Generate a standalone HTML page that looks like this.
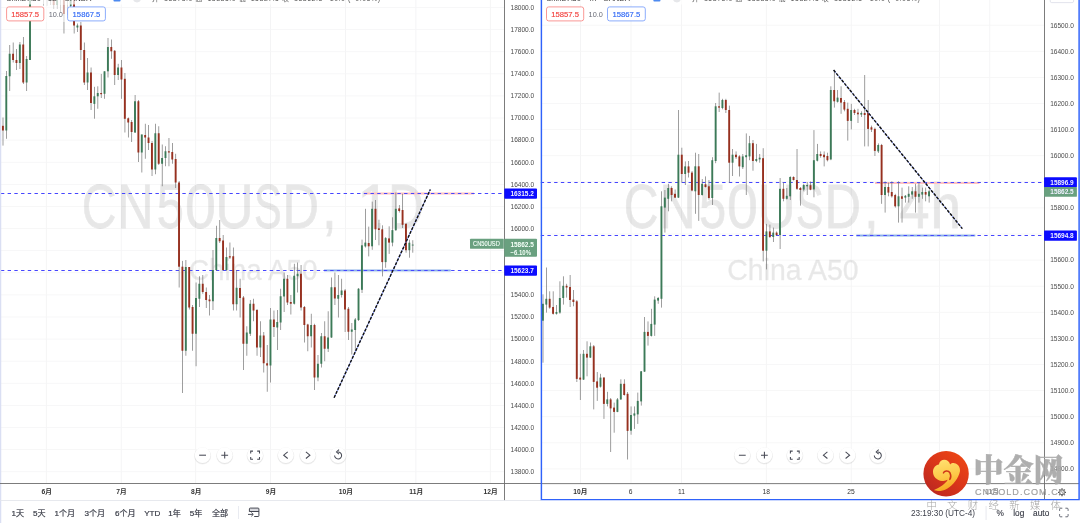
<!DOCTYPE html>
<html lang="zh-CN"><head><meta charset="utf-8"><title>CN50USD China A50 chart</title>
<style>html,body{margin:0;padding:0;background:#fff;}body{width:1080px;height:523px;overflow:hidden;}svg{display:block;will-change:transform;}text{white-space:pre;}</style>
</head><body>
<svg width="1080" height="523" viewBox="0 0 1080 523" font-family='"Liberation Sans", "Noto Sans CJK SC", sans-serif'>
<defs>
<clipPath id="cl"><rect x="0" y="0" width="504" height="483"/></clipPath>
<clipPath id="cr"><rect x="540.5" y="0" width="504" height="483"/></clipPath>
<linearGradient id="lg" x1="0.85" y1="0.1" x2="0.15" y2="0.9"><stop offset="0" stop-color="#ec4514"/><stop offset="0.5" stop-color="#d9351a"/><stop offset="1" stop-color="#bd2820"/></linearGradient>
<linearGradient id="gold" x1="0.3" y1="0" x2="0.5" y2="1"><stop offset="0" stop-color="#ffe070"/><stop offset="0.55" stop-color="#fdc848"/><stop offset="1" stop-color="#f7a51e"/></linearGradient>
</defs>
<rect width="1080" height="523" fill="#fff"/>
<g clip-path="url(#cl)">
<rect x="45.9" y="0" width="0.8" height="483" fill="#f2f2f3"/>
<rect x="120.8" y="0" width="0.8" height="483" fill="#f2f2f3"/>
<rect x="195.3" y="0" width="0.8" height="483" fill="#f2f2f3"/>
<rect x="270.1" y="0" width="0.8" height="483" fill="#f2f2f3"/>
<rect x="345.2" y="0" width="0.8" height="483" fill="#f2f2f3"/>
<rect x="415.5" y="0" width="0.8" height="483" fill="#f2f2f3"/>
<rect x="489.9" y="0" width="0.8" height="483" fill="#f2f2f3"/>
<rect x="0" y="7.10" width="504" height="0.8" fill="#f5f5f6"/>
<rect x="0" y="29.21" width="504" height="0.8" fill="#f5f5f6"/>
<rect x="0" y="51.31" width="504" height="0.8" fill="#f5f5f6"/>
<rect x="0" y="73.41" width="504" height="0.8" fill="#f5f5f6"/>
<rect x="0" y="95.52" width="504" height="0.8" fill="#f5f5f6"/>
<rect x="0" y="117.62" width="504" height="0.8" fill="#f5f5f6"/>
<rect x="0" y="139.73" width="504" height="0.8" fill="#f5f5f6"/>
<rect x="0" y="161.84" width="504" height="0.8" fill="#f5f5f6"/>
<rect x="0" y="183.94" width="504" height="0.8" fill="#f5f5f6"/>
<rect x="0" y="206.04" width="504" height="0.8" fill="#f5f5f6"/>
<rect x="0" y="228.15" width="504" height="0.8" fill="#f5f5f6"/>
<rect x="0" y="250.25" width="504" height="0.8" fill="#f5f5f6"/>
<rect x="0" y="272.36" width="504" height="0.8" fill="#f5f5f6"/>
<rect x="0" y="294.47" width="504" height="0.8" fill="#f5f5f6"/>
<rect x="0" y="316.57" width="504" height="0.8" fill="#f5f5f6"/>
<rect x="0" y="338.68" width="504" height="0.8" fill="#f5f5f6"/>
<rect x="0" y="360.78" width="504" height="0.8" fill="#f5f5f6"/>
<rect x="0" y="382.89" width="504" height="0.8" fill="#f5f5f6"/>
<rect x="0" y="404.99" width="504" height="0.8" fill="#f5f5f6"/>
<rect x="0" y="427.10" width="504" height="0.8" fill="#f5f5f6"/>
<rect x="0" y="449.20" width="504" height="0.8" fill="#f5f5f6"/>
<rect x="0" y="471.31" width="504" height="0.8" fill="#f5f5f6"/>
<g opacity="0.092"><text transform="translate(81.65,228.3) scale(0.772,1)" font-size="62.3" fill="#000" stroke="#000" stroke-width="0.8">C</text></g>
<g opacity="0.092"><text transform="translate(117.32,228.3) scale(0.808,1)" font-size="62.3" fill="#000" stroke="#000" stroke-width="0.8">N</text></g>
<g opacity="0.092"><text transform="translate(156.79,228.3) scale(0.785,1)" font-size="62.3" fill="#000" stroke="#000" stroke-width="0.8">5</text></g>
<g opacity="0.092"><text transform="translate(184.93,228.3) scale(0.890,1)" font-size="62.3" fill="#000" stroke="#000" stroke-width="0.8">0</text></g>
<g opacity="0.092"><text transform="translate(215.19,228.3) scale(0.854,1)" font-size="62.3" fill="#000" stroke="#000" stroke-width="0.8">U</text></g>
<g opacity="0.092"><text transform="translate(253.97,228.3) scale(0.667,1)" font-size="62.3" fill="#000" stroke="#000" stroke-width="0.8">S</text></g>
<g opacity="0.092"><text transform="translate(282.50,228.3) scale(0.813,1)" font-size="62.3" fill="#000" stroke="#000" stroke-width="0.8">D</text></g>
<g opacity="0.092"><text transform="translate(321.98,228.3) scale(0.851,1)" font-size="62.3" fill="#000" stroke="#000" stroke-width="0.8">,</text></g>
<clipPath id="c1_362"><path d="M359.1 168.3H380.9V231.3H371.5V222.9H359.1Z"/></clipPath>
<g clip-path="url(#c1_362)" opacity="0.092"><text transform="translate(357.01,228.3) scale(0.970,1)" font-size="62.3" fill="#000" stroke="#000" stroke-width="0.8">1</text></g>
<g opacity="0.092"><text transform="translate(387.88,228.3) scale(0.797,1)" font-size="62.3" fill="#000" stroke="#000" stroke-width="0.8">D</text></g>
<text x="189.0" y="279.6" font-size="30.4" textLength="128.5" lengthAdjust="spacingAndGlyphs" fill="#000" stroke="#000" stroke-width="0.4" opacity="0.088">China A50</text>
<rect x="364" y="192.5" width="110" height="2" fill="#ffc2c2"/>
<rect x="324" y="269.5" width="126.8" height="1.9" fill="#8ab0e8"/>
<path d="M0.9 193.5H504" stroke="#4646ff" stroke-width="1" stroke-dasharray="3.4 3.32" fill="none"/>
<path d="M0.9 270.5H504" stroke="#4646ff" stroke-width="1" stroke-dasharray="3.4 3.32" fill="none"/>
<rect x="2.66" y="117.50" width="0.68" height="28.10" fill="#707070"/>
<rect x="1.95" y="125.80" width="1.9" height="4.70" fill="#97301f"/>
<rect x="6.05" y="71.00" width="0.68" height="67.80" fill="#707070"/>
<rect x="5.34" y="76.00" width="1.9" height="54.50" fill="#3c7a58"/>
<rect x="9.43" y="45.00" width="0.68" height="46.00" fill="#707070"/>
<rect x="8.72" y="53.75" width="1.9" height="22.50" fill="#3c7a58"/>
<rect x="12.82" y="42.50" width="0.68" height="20.00" fill="#707070"/>
<rect x="12.11" y="53.75" width="1.9" height="6.25" fill="#97301f"/>
<rect x="16.21" y="49.00" width="0.68" height="21.00" fill="#707070"/>
<rect x="15.50" y="60.00" width="1.9" height="3.00" fill="#97301f"/>
<rect x="19.59" y="42.00" width="0.68" height="27.00" fill="#707070"/>
<rect x="18.88" y="44.50" width="1.9" height="18.50" fill="#3c7a58"/>
<rect x="22.98" y="37.00" width="0.68" height="47.00" fill="#707070"/>
<rect x="22.27" y="44.50" width="1.9" height="38.00" fill="#97301f"/>
<rect x="26.37" y="56.00" width="0.68" height="35.00" fill="#707070"/>
<rect x="25.66" y="59.00" width="1.9" height="23.50" fill="#3c7a58"/>
<rect x="29.76" y="-10.00" width="0.68" height="70.00" fill="#707070"/>
<rect x="29.05" y="-10.00" width="1.9" height="70.00" fill="#3c7a58"/>
<rect x="43.30" y="-10.00" width="0.68" height="15.50" fill="#707070"/>
<rect x="42.59" y="-10.00" width="1.9" height="5.00" fill="#97301f"/>
<rect x="46.69" y="-10.00" width="0.68" height="15.50" fill="#707070"/>
<rect x="45.98" y="-10.00" width="1.9" height="5.00" fill="#3c7a58"/>
<rect x="50.08" y="-10.00" width="0.68" height="15.00" fill="#707070"/>
<rect x="49.37" y="-10.00" width="1.9" height="5.00" fill="#3c7a58"/>
<rect x="53.46" y="-10.00" width="0.68" height="19.00" fill="#707070"/>
<rect x="52.75" y="-10.00" width="1.9" height="15.00" fill="#97301f"/>
<rect x="56.85" y="-10.00" width="0.68" height="19.00" fill="#707070"/>
<rect x="56.14" y="-10.00" width="1.9" height="15.00" fill="#3c7a58"/>
<rect x="60.24" y="-10.00" width="0.68" height="23.00" fill="#707070"/>
<rect x="59.53" y="-10.00" width="1.9" height="5.00" fill="#97301f"/>
<rect x="63.63" y="-10.00" width="0.68" height="43.50" fill="#707070"/>
<rect x="62.92" y="-10.00" width="1.9" height="24.00" fill="#97301f"/>
<rect x="67.01" y="-10.00" width="0.68" height="25.00" fill="#707070"/>
<rect x="66.30" y="-10.00" width="1.9" height="5.00" fill="#3c7a58"/>
<rect x="70.40" y="-10.00" width="0.68" height="18.00" fill="#707070"/>
<rect x="69.69" y="-10.00" width="1.9" height="16.00" fill="#3c7a58"/>
<rect x="73.79" y="-10.00" width="0.68" height="43.50" fill="#707070"/>
<rect x="73.08" y="-10.00" width="1.9" height="35.50" fill="#97301f"/>
<rect x="77.17" y="23.50" width="0.68" height="8.50" fill="#707070"/>
<rect x="76.46" y="25.50" width="1.9" height="2.00" fill="#3c7a58"/>
<rect x="80.56" y="22.00" width="0.68" height="38.00" fill="#707070"/>
<rect x="79.85" y="25.50" width="1.9" height="24.50" fill="#97301f"/>
<rect x="83.95" y="42.50" width="0.68" height="42.50" fill="#707070"/>
<rect x="83.24" y="50.00" width="1.9" height="32.50" fill="#97301f"/>
<rect x="87.33" y="58.00" width="0.68" height="32.00" fill="#707070"/>
<rect x="86.62" y="72.50" width="1.9" height="10.00" fill="#3c7a58"/>
<rect x="90.72" y="67.50" width="0.68" height="42.50" fill="#707070"/>
<rect x="90.01" y="72.50" width="1.9" height="30.50" fill="#97301f"/>
<rect x="94.11" y="86.80" width="0.68" height="31.90" fill="#707070"/>
<rect x="93.40" y="96.30" width="1.9" height="7.60" fill="#3c7a58"/>
<rect x="97.50" y="86.30" width="0.68" height="22.45" fill="#707070"/>
<rect x="96.79" y="93.00" width="1.9" height="3.30" fill="#3c7a58"/>
<rect x="100.88" y="73.90" width="0.68" height="24.10" fill="#707070"/>
<rect x="100.17" y="93.00" width="1.9" height="1.20" fill="#97301f"/>
<rect x="104.27" y="71.30" width="0.68" height="27.50" fill="#707070"/>
<rect x="103.56" y="71.30" width="1.9" height="22.50" fill="#3c7a58"/>
<rect x="107.66" y="38.00" width="0.68" height="39.50" fill="#707070"/>
<rect x="106.95" y="47.00" width="1.9" height="24.30" fill="#3c7a58"/>
<rect x="111.04" y="39.50" width="0.68" height="19.30" fill="#707070"/>
<rect x="110.33" y="47.00" width="1.9" height="4.30" fill="#97301f"/>
<rect x="114.43" y="50.00" width="0.68" height="35.00" fill="#707070"/>
<rect x="113.72" y="50.80" width="1.9" height="24.20" fill="#97301f"/>
<rect x="117.82" y="63.80" width="0.68" height="16.20" fill="#707070"/>
<rect x="117.11" y="67.50" width="1.9" height="7.50" fill="#3c7a58"/>
<rect x="121.20" y="60.00" width="0.68" height="38.80" fill="#707070"/>
<rect x="120.50" y="67.50" width="1.9" height="12.00" fill="#97301f"/>
<rect x="124.59" y="73.00" width="0.68" height="59.50" fill="#707070"/>
<rect x="123.88" y="78.80" width="1.9" height="40.00" fill="#97301f"/>
<rect x="127.98" y="117.50" width="0.68" height="20.00" fill="#707070"/>
<rect x="127.27" y="118.30" width="1.9" height="4.20" fill="#97301f"/>
<rect x="131.37" y="120.00" width="0.68" height="22.00" fill="#707070"/>
<rect x="130.66" y="122.00" width="1.9" height="10.00" fill="#97301f"/>
<rect x="134.75" y="95.00" width="0.68" height="38.00" fill="#707070"/>
<rect x="134.04" y="101.25" width="1.9" height="31.25" fill="#3c7a58"/>
<rect x="138.14" y="100.00" width="0.68" height="62.00" fill="#707070"/>
<rect x="137.43" y="101.25" width="1.9" height="51.25" fill="#97301f"/>
<rect x="141.53" y="134.50" width="0.68" height="38.00" fill="#707070"/>
<rect x="140.82" y="134.50" width="1.9" height="18.00" fill="#3c7a58"/>
<rect x="144.91" y="123.75" width="0.68" height="35.00" fill="#707070"/>
<rect x="144.20" y="135.00" width="1.9" height="2.50" fill="#97301f"/>
<rect x="148.30" y="125.00" width="0.68" height="25.00" fill="#707070"/>
<rect x="147.59" y="137.50" width="1.9" height="5.50" fill="#97301f"/>
<rect x="151.69" y="141.00" width="0.68" height="35.00" fill="#707070"/>
<rect x="150.98" y="143.00" width="1.9" height="26.50" fill="#97301f"/>
<rect x="155.07" y="123.75" width="0.68" height="50.50" fill="#707070"/>
<rect x="154.37" y="133.25" width="1.9" height="36.25" fill="#3c7a58"/>
<rect x="158.46" y="126.25" width="0.68" height="38.75" fill="#707070"/>
<rect x="157.75" y="133.25" width="1.9" height="30.50" fill="#97301f"/>
<rect x="161.85" y="144.50" width="0.68" height="41.75" fill="#707070"/>
<rect x="161.14" y="158.00" width="1.9" height="5.75" fill="#3c7a58"/>
<rect x="165.24" y="146.25" width="0.68" height="20.00" fill="#707070"/>
<rect x="164.53" y="151.25" width="1.9" height="6.75" fill="#3c7a58"/>
<rect x="168.62" y="138.00" width="0.68" height="28.25" fill="#707070"/>
<rect x="167.91" y="151.25" width="1.9" height="1.25" fill="#97301f"/>
<rect x="172.01" y="143.00" width="0.68" height="20.75" fill="#707070"/>
<rect x="171.30" y="152.00" width="1.9" height="7.50" fill="#97301f"/>
<rect x="175.40" y="153.75" width="0.68" height="34.25" fill="#707070"/>
<rect x="174.69" y="159.00" width="1.9" height="23.50" fill="#97301f"/>
<rect x="178.78" y="181.00" width="0.68" height="106.50" fill="#707070"/>
<rect x="178.07" y="182.50" width="1.9" height="84.20" fill="#97301f"/>
<rect x="182.17" y="260.90" width="0.68" height="132.10" fill="#707070"/>
<rect x="181.46" y="266.70" width="1.9" height="84.05" fill="#97301f"/>
<rect x="185.56" y="260.00" width="0.68" height="95.75" fill="#707070"/>
<rect x="184.85" y="267.00" width="1.9" height="83.75" fill="#3c7a58"/>
<rect x="188.94" y="267.00" width="0.68" height="42.50" fill="#707070"/>
<rect x="188.24" y="267.00" width="1.9" height="40.50" fill="#97301f"/>
<rect x="192.33" y="305.00" width="0.68" height="45.75" fill="#707070"/>
<rect x="191.62" y="307.00" width="1.9" height="26.75" fill="#97301f"/>
<rect x="195.72" y="282.50" width="0.68" height="83.75" fill="#707070"/>
<rect x="195.01" y="298.00" width="1.9" height="35.75" fill="#3c7a58"/>
<rect x="199.11" y="276.25" width="0.68" height="30.75" fill="#707070"/>
<rect x="198.40" y="283.75" width="1.9" height="15.00" fill="#3c7a58"/>
<rect x="202.49" y="275.00" width="0.68" height="18.75" fill="#707070"/>
<rect x="201.78" y="283.75" width="1.9" height="8.25" fill="#97301f"/>
<rect x="205.88" y="287.50" width="0.68" height="20.50" fill="#707070"/>
<rect x="205.17" y="292.00" width="1.9" height="8.00" fill="#97301f"/>
<rect x="209.27" y="295.00" width="0.68" height="20.50" fill="#707070"/>
<rect x="208.56" y="299.50" width="1.9" height="1.75" fill="#97301f"/>
<rect x="212.65" y="250.00" width="0.68" height="60.00" fill="#707070"/>
<rect x="211.94" y="270.00" width="1.9" height="31.25" fill="#3c7a58"/>
<rect x="216.04" y="225.75" width="0.68" height="45.25" fill="#707070"/>
<rect x="215.33" y="238.00" width="1.9" height="32.00" fill="#3c7a58"/>
<rect x="219.43" y="220.00" width="0.68" height="23.00" fill="#707070"/>
<rect x="218.72" y="238.00" width="1.9" height="3.25" fill="#97301f"/>
<rect x="222.81" y="235.00" width="0.68" height="36.00" fill="#707070"/>
<rect x="222.11" y="240.50" width="1.9" height="29.50" fill="#97301f"/>
<rect x="226.20" y="247.50" width="0.68" height="23.50" fill="#707070"/>
<rect x="225.49" y="257.00" width="1.9" height="13.00" fill="#3c7a58"/>
<rect x="229.59" y="242.50" width="0.68" height="16.50" fill="#707070"/>
<rect x="228.88" y="256.25" width="1.9" height="1.25" fill="#97301f"/>
<rect x="232.98" y="247.50" width="0.68" height="63.00" fill="#707070"/>
<rect x="232.27" y="256.25" width="1.9" height="48.00" fill="#97301f"/>
<rect x="236.36" y="270.00" width="0.68" height="40.50" fill="#707070"/>
<rect x="235.65" y="287.75" width="1.9" height="16.50" fill="#3c7a58"/>
<rect x="239.75" y="278.75" width="0.68" height="38.75" fill="#707070"/>
<rect x="239.04" y="288.00" width="1.9" height="10.00" fill="#97301f"/>
<rect x="243.14" y="296.00" width="0.68" height="74.00" fill="#707070"/>
<rect x="242.43" y="297.50" width="1.9" height="46.25" fill="#97301f"/>
<rect x="246.52" y="326.25" width="0.68" height="29.50" fill="#707070"/>
<rect x="245.81" y="332.50" width="1.9" height="11.25" fill="#3c7a58"/>
<rect x="249.91" y="300.00" width="0.68" height="36.00" fill="#707070"/>
<rect x="249.20" y="303.75" width="1.9" height="30.00" fill="#3c7a58"/>
<rect x="253.30" y="298.75" width="0.68" height="22.50" fill="#707070"/>
<rect x="252.59" y="303.75" width="1.9" height="6.75" fill="#97301f"/>
<rect x="256.69" y="309.00" width="0.68" height="46.75" fill="#707070"/>
<rect x="255.98" y="310.00" width="1.9" height="37.50" fill="#97301f"/>
<rect x="260.07" y="321.25" width="0.68" height="35.75" fill="#707070"/>
<rect x="259.36" y="335.50" width="1.9" height="12.00" fill="#3c7a58"/>
<rect x="263.46" y="332.00" width="0.68" height="40.50" fill="#707070"/>
<rect x="262.75" y="335.50" width="1.9" height="27.75" fill="#97301f"/>
<rect x="266.85" y="345.00" width="0.68" height="46.75" fill="#707070"/>
<rect x="266.14" y="363.25" width="1.9" height="2.25" fill="#97301f"/>
<rect x="270.23" y="308.00" width="0.68" height="74.50" fill="#707070"/>
<rect x="269.52" y="319.50" width="1.9" height="46.00" fill="#3c7a58"/>
<rect x="273.62" y="310.50" width="0.68" height="26.50" fill="#707070"/>
<rect x="272.91" y="319.50" width="1.9" height="7.50" fill="#97301f"/>
<rect x="277.01" y="310.00" width="0.68" height="40.00" fill="#707070"/>
<rect x="276.30" y="322.00" width="1.9" height="5.50" fill="#3c7a58"/>
<rect x="280.39" y="288.75" width="0.68" height="41.25" fill="#707070"/>
<rect x="279.68" y="296.25" width="1.9" height="26.25" fill="#3c7a58"/>
<rect x="283.78" y="272.50" width="0.68" height="39.50" fill="#707070"/>
<rect x="283.07" y="278.75" width="1.9" height="17.75" fill="#3c7a58"/>
<rect x="287.17" y="275.00" width="0.68" height="30.00" fill="#707070"/>
<rect x="286.46" y="278.75" width="1.9" height="23.75" fill="#97301f"/>
<rect x="290.56" y="295.00" width="0.68" height="19.50" fill="#707070"/>
<rect x="289.84" y="302.00" width="1.9" height="1.75" fill="#97301f"/>
<rect x="293.94" y="263.75" width="0.68" height="40.75" fill="#707070"/>
<rect x="293.23" y="275.75" width="1.9" height="28.00" fill="#3c7a58"/>
<rect x="297.33" y="262.50" width="0.68" height="30.00" fill="#707070"/>
<rect x="296.62" y="273.75" width="1.9" height="2.50" fill="#3c7a58"/>
<rect x="300.72" y="265.00" width="0.68" height="45.50" fill="#707070"/>
<rect x="300.01" y="273.75" width="1.9" height="33.75" fill="#97301f"/>
<rect x="304.10" y="306.00" width="0.68" height="36.50" fill="#707070"/>
<rect x="303.39" y="307.00" width="1.9" height="18.00" fill="#97301f"/>
<rect x="307.49" y="323.75" width="0.68" height="27.50" fill="#707070"/>
<rect x="306.78" y="324.50" width="1.9" height="11.75" fill="#97301f"/>
<rect x="310.88" y="313.75" width="0.68" height="33.75" fill="#707070"/>
<rect x="310.17" y="325.00" width="1.9" height="11.25" fill="#3c7a58"/>
<rect x="314.26" y="323.75" width="0.68" height="66.25" fill="#707070"/>
<rect x="313.55" y="325.00" width="1.9" height="52.50" fill="#97301f"/>
<rect x="317.65" y="355.00" width="0.68" height="26.25" fill="#707070"/>
<rect x="316.94" y="363.75" width="1.9" height="13.75" fill="#3c7a58"/>
<rect x="321.04" y="333.00" width="0.68" height="34.50" fill="#707070"/>
<rect x="320.33" y="336.25" width="1.9" height="27.50" fill="#3c7a58"/>
<rect x="324.43" y="321.25" width="0.68" height="40.00" fill="#707070"/>
<rect x="323.71" y="336.25" width="1.9" height="12.50" fill="#97301f"/>
<rect x="327.81" y="311.25" width="0.68" height="40.75" fill="#707070"/>
<rect x="327.10" y="337.50" width="1.9" height="11.25" fill="#3c7a58"/>
<rect x="331.20" y="277.50" width="0.68" height="60.50" fill="#707070"/>
<rect x="330.49" y="287.25" width="1.9" height="50.25" fill="#3c7a58"/>
<rect x="334.59" y="272.50" width="0.68" height="32.50" fill="#707070"/>
<rect x="333.88" y="287.25" width="1.9" height="11.25" fill="#97301f"/>
<rect x="337.97" y="275.00" width="0.68" height="42.50" fill="#707070"/>
<rect x="337.26" y="295.00" width="1.9" height="3.75" fill="#3c7a58"/>
<rect x="341.36" y="278.75" width="0.68" height="18.75" fill="#707070"/>
<rect x="340.65" y="290.50" width="1.9" height="4.50" fill="#3c7a58"/>
<rect x="344.75" y="289.00" width="0.68" height="43.00" fill="#707070"/>
<rect x="344.04" y="290.50" width="1.9" height="19.00" fill="#97301f"/>
<rect x="348.13" y="307.00" width="0.68" height="33.00" fill="#707070"/>
<rect x="347.42" y="308.75" width="1.9" height="23.00" fill="#97301f"/>
<rect x="351.52" y="323.00" width="0.68" height="31.50" fill="#707070"/>
<rect x="350.81" y="329.50" width="1.9" height="2.25" fill="#3c7a58"/>
<rect x="354.91" y="318.00" width="0.68" height="33.25" fill="#707070"/>
<rect x="354.20" y="319.50" width="1.9" height="10.50" fill="#3c7a58"/>
<rect x="358.30" y="288.00" width="0.68" height="33.00" fill="#707070"/>
<rect x="357.58" y="288.75" width="1.9" height="31.25" fill="#3c7a58"/>
<rect x="361.68" y="239.60" width="0.68" height="53.40" fill="#707070"/>
<rect x="360.97" y="245.30" width="1.9" height="44.50" fill="#3c7a58"/>
<rect x="365.07" y="208.80" width="0.68" height="38.70" fill="#707070"/>
<rect x="364.36" y="242.60" width="1.9" height="3.80" fill="#3c7a58"/>
<rect x="368.46" y="226.60" width="0.68" height="29.80" fill="#707070"/>
<rect x="367.75" y="243.00" width="1.9" height="3.30" fill="#97301f"/>
<rect x="371.84" y="201.60" width="0.68" height="48.20" fill="#707070"/>
<rect x="371.13" y="208.80" width="1.9" height="37.50" fill="#3c7a58"/>
<rect x="375.23" y="200.00" width="0.68" height="40.00" fill="#707070"/>
<rect x="374.52" y="208.80" width="1.9" height="20.50" fill="#97301f"/>
<rect x="378.62" y="219.70" width="0.68" height="25.60" fill="#707070"/>
<rect x="377.91" y="228.30" width="1.9" height="1.70" fill="#97301f"/>
<rect x="382.00" y="225.30" width="0.68" height="51.10" fill="#707070"/>
<rect x="381.29" y="229.30" width="1.9" height="32.80" fill="#97301f"/>
<rect x="385.39" y="237.00" width="0.68" height="30.80" fill="#707070"/>
<rect x="384.68" y="238.10" width="1.9" height="24.00" fill="#3c7a58"/>
<rect x="388.78" y="226.30" width="0.68" height="27.60" fill="#707070"/>
<rect x="388.07" y="238.40" width="1.9" height="4.20" fill="#97301f"/>
<rect x="392.17" y="217.30" width="0.68" height="29.00" fill="#707070"/>
<rect x="391.45" y="230.10" width="1.9" height="12.50" fill="#3c7a58"/>
<rect x="395.55" y="192.50" width="0.68" height="38.50" fill="#707070"/>
<rect x="394.84" y="208.80" width="1.9" height="21.30" fill="#3c7a58"/>
<rect x="398.94" y="205.00" width="0.68" height="7.50" fill="#707070"/>
<rect x="398.23" y="208.40" width="1.9" height="2.60" fill="#97301f"/>
<rect x="402.33" y="193.80" width="0.68" height="34.20" fill="#707070"/>
<rect x="401.62" y="210.00" width="1.9" height="14.80" fill="#97301f"/>
<rect x="405.71" y="223.00" width="0.68" height="29.70" fill="#707070"/>
<rect x="405.00" y="223.90" width="1.9" height="26.30" fill="#97301f"/>
<rect x="409.10" y="239.70" width="0.68" height="18.00" fill="#707070"/>
<rect x="408.39" y="242.70" width="1.9" height="7.50" fill="#3c7a58"/>
<rect x="412.49" y="240.20" width="0.68" height="12.50" fill="#707070"/>
<rect x="411.78" y="244.60" width="1.9" height="0.90" fill="#3c7a58"/>
<path d="M334.1 397.7L430.3 189.5" stroke="#7a90ff" stroke-width="0.9" fill="none"/>
<path d="M334.1 397.7L430.3 189.5" stroke="#111" stroke-width="1.45" stroke-dasharray="2.9 1.4" fill="none"/>
<rect x="2" y="-2" width="320" height="6.5" fill="#fff" opacity="0.72"/>
<rect x="44" y="4" width="26" height="18" fill="#fff" opacity="0.55"/>
<text x="6" y="0.9" font-size="7.6" fill="#3a3a3a" font-family='"Liberation Sans", "Noto Sans CJK SC", sans-serif'>China A50 · 1D · OANDA</text>
<rect x="113.5" y="-3" width="7" height="4.6" rx="0.8" fill="#4d8af0"/>
<circle cx="137" cy="-1.6" r="4" fill="#e6e7ea"/>
<text x="152" y="0.9" font-size="7" fill="#555" textLength="228" lengthAdjust="spacing" font-family='"Liberation Sans", "Noto Sans CJK SC", sans-serif'>开=15875.0 高=15885.0 低=15827.5 收=15862.5 −10.0 (−0.06%)</text>
<rect x="6.6" y="6.9" width="37.2" height="14" rx="2.2" fill="#fff" stroke="#f87e7a" stroke-width="0.8"/>
<text x="25.2" y="16.7" font-size="7.7" text-anchor="middle" fill="#f23f3c" stroke="#f23f3c" stroke-width="0.15" font-family='"Liberation Sans", "Noto Sans CJK SC", sans-serif'>15857.5</text>
<text x="55.8" y="16.7" font-size="7.3" text-anchor="middle" fill="#6a6d78" font-family='"Liberation Sans", "Noto Sans CJK SC", sans-serif'>10.0</text>
<rect x="67.6" y="6.9" width="37.8" height="14" rx="2.2" fill="#fff" stroke="#6f97fb" stroke-width="0.8"/>
<text x="86.5" y="16.7" font-size="7.7" text-anchor="middle" fill="#2f68f5" stroke="#2f68f5" stroke-width="0.15" font-family='"Liberation Sans", "Noto Sans CJK SC", sans-serif'>15867.5</text>
<circle cx="202.6" cy="456.0" r="8.6" fill="#000" opacity="0.05"/>
<circle cx="202.6" cy="455.6" r="8.3" fill="#000" opacity="0.05"/>
<circle cx="202.6" cy="455.2" r="7.9" fill="#fff"/>
<g transform="translate(202.6,455.2)" fill="none" stroke="#474a55" stroke-width="1.05" stroke-linecap="butt"><path d="M-3.4 0H3.4"/></g>
<circle cx="224.7" cy="456.0" r="8.6" fill="#000" opacity="0.05"/>
<circle cx="224.7" cy="455.6" r="8.3" fill="#000" opacity="0.05"/>
<circle cx="224.7" cy="455.2" r="7.9" fill="#fff"/>
<g transform="translate(224.7,455.2)" fill="none" stroke="#474a55" stroke-width="1.05" stroke-linecap="butt"><path d="M-3.4 0H3.4M0 -3.4V3.4"/></g>
<circle cx="255.1" cy="456.0" r="8.6" fill="#000" opacity="0.05"/>
<circle cx="255.1" cy="455.6" r="8.3" fill="#000" opacity="0.05"/>
<circle cx="255.1" cy="455.2" r="7.9" fill="#fff"/>
<g transform="translate(255.1,455.2)" fill="none" stroke="#474a55" stroke-width="1.05" stroke-linecap="butt"><path d="M-4.4 -1.8V-4.1H-2.1M2.1 -4.1H4.4V-1.8M4.4 1.8V4.1H2.1M-2.1 4.1H-4.4V1.8"/></g>
<circle cx="285.8" cy="456.0" r="8.6" fill="#000" opacity="0.05"/>
<circle cx="285.8" cy="455.6" r="8.3" fill="#000" opacity="0.05"/>
<circle cx="285.8" cy="455.2" r="7.9" fill="#fff"/>
<g transform="translate(285.8,455.2)" fill="none" stroke="#474a55" stroke-width="1.05" stroke-linecap="butt"><path d="M1.9 -3.3L-2.1 0L1.9 3.3"/></g>
<circle cx="307.8" cy="456.0" r="8.6" fill="#000" opacity="0.05"/>
<circle cx="307.8" cy="455.6" r="8.3" fill="#000" opacity="0.05"/>
<circle cx="307.8" cy="455.2" r="7.9" fill="#fff"/>
<g transform="translate(307.8,455.2)" fill="none" stroke="#474a55" stroke-width="1.05" stroke-linecap="butt"><path d="M-1.9 -3.3L2.1 0L-1.9 3.3"/></g>
<circle cx="338.1" cy="456.0" r="8.6" fill="#000" opacity="0.05"/>
<circle cx="338.1" cy="455.6" r="8.3" fill="#000" opacity="0.05"/>
<circle cx="338.1" cy="455.2" r="7.9" fill="#fff"/>
<g transform="translate(338.1,455.2)" fill="none" stroke="#474a55" stroke-width="1.05" stroke-linecap="butt"><path d="M-3.5 0.3A3.5 3.5 0 1 0 -0.2 -3.2"/><path d="M0.9 -5.6L-1.6 -3.3L0.9 -1.0" stroke-linejoin="miter"/></g>
</g>
<rect x="0" y="0" width="1.25" height="523" fill="#dadff3"/>
<rect x="504.1" y="0" width="0.9" height="500.4" fill="#6e6e6e"/>
<text x="534.2" y="9.85" font-size="6.55" text-anchor="end" fill="#4c4c4c">18000.0</text>
<text x="534.2" y="31.96" font-size="6.55" text-anchor="end" fill="#4c4c4c">17800.0</text>
<text x="534.2" y="54.06" font-size="6.55" text-anchor="end" fill="#4c4c4c">17600.0</text>
<text x="534.2" y="76.16" font-size="6.55" text-anchor="end" fill="#4c4c4c">17400.0</text>
<text x="534.2" y="98.27" font-size="6.55" text-anchor="end" fill="#4c4c4c">17200.0</text>
<text x="534.2" y="120.38" font-size="6.55" text-anchor="end" fill="#4c4c4c">17000.0</text>
<text x="534.2" y="142.48" font-size="6.55" text-anchor="end" fill="#4c4c4c">16800.0</text>
<text x="534.2" y="164.59" font-size="6.55" text-anchor="end" fill="#4c4c4c">16600.0</text>
<text x="534.2" y="186.69" font-size="6.55" text-anchor="end" fill="#4c4c4c">16400.0</text>
<text x="534.2" y="208.79" font-size="6.55" text-anchor="end" fill="#4c4c4c">16200.0</text>
<text x="534.2" y="230.90" font-size="6.55" text-anchor="end" fill="#4c4c4c">16000.0</text>
<text x="534.2" y="253.00" font-size="6.55" text-anchor="end" fill="#4c4c4c">15800.0</text>
<text x="534.2" y="275.11" font-size="6.55" text-anchor="end" fill="#4c4c4c">15600.0</text>
<text x="534.2" y="297.22" font-size="6.55" text-anchor="end" fill="#4c4c4c">15400.0</text>
<text x="534.2" y="319.32" font-size="6.55" text-anchor="end" fill="#4c4c4c">15200.0</text>
<text x="534.2" y="341.43" font-size="6.55" text-anchor="end" fill="#4c4c4c">15000.0</text>
<text x="534.2" y="363.53" font-size="6.55" text-anchor="end" fill="#4c4c4c">14800.0</text>
<text x="534.2" y="385.64" font-size="6.55" text-anchor="end" fill="#4c4c4c">14600.0</text>
<text x="534.2" y="407.74" font-size="6.55" text-anchor="end" fill="#4c4c4c">14400.0</text>
<text x="534.2" y="429.85" font-size="6.55" text-anchor="end" fill="#4c4c4c">14200.0</text>
<text x="534.2" y="451.95" font-size="6.55" text-anchor="end" fill="#4c4c4c">14000.0</text>
<text x="534.2" y="474.06" font-size="6.55" text-anchor="end" fill="#4c4c4c">13800.0</text>
<rect x="504.3" y="188.55" width="32.7" height="10.2" rx="0.9" fill="#0b0bff"/><text x="533.8" y="196.20" font-size="7.0" font-weight="bold" text-anchor="end" textLength="23.4" lengthAdjust="spacingAndGlyphs" fill="#f0f0ff" font-family='"Liberation Sans", "Noto Sans CJK SC", sans-serif'>16315.2</text>
<rect x="504.3" y="265.55" width="32.7" height="10.2" rx="0.9" fill="#0b0bff"/><text x="533.8" y="273.20" font-size="7.0" font-weight="bold" text-anchor="end" textLength="23.4" lengthAdjust="spacingAndGlyphs" fill="#f0f0ff" font-family='"Liberation Sans", "Noto Sans CJK SC", sans-serif'>15623.7</text>
<rect x="504.3" y="238.7" width="32.7" height="18.0" rx="0.9" fill="#69a07f"/>
<text x="533.8" y="246.8" font-size="7.0" font-weight="bold" text-anchor="end" textLength="23.4" lengthAdjust="spacingAndGlyphs" fill="#f4fff8">15862.5</text>
<text x="531.0" y="254.8" font-size="6.6" font-weight="bold" text-anchor="end" textLength="20.5" lengthAdjust="spacingAndGlyphs" fill="#f4fff8">−6.10%</text>
<rect x="470" y="238.7" width="33.6" height="10.1" rx="0.9" fill="#69a07f"/>
<rect x="503.3" y="238.7" width="1.2" height="10.1" fill="#69a07f" opacity="0.6"/>
<text x="473.1" y="246.2" font-size="6.7" textLength="26.7" lengthAdjust="spacingAndGlyphs" fill="#f4fff8" stroke="#f4fff8" stroke-width="0.12">CN50USD</text>
<rect x="0" y="483.0" width="541" height="0.9" fill="#6e6e6e"/>
<rect x="0" y="500.0" width="541" height="0.8" fill="#e2e4ea"/>
<text x="46.8" y="493.9" font-size="6.7" text-anchor="middle" fill="#333" font-weight="bold">6月</text>
<text x="121.5" y="493.9" font-size="6.7" text-anchor="middle" fill="#333" font-weight="bold">7月</text>
<text x="196.2" y="493.9" font-size="6.7" text-anchor="middle" fill="#333" font-weight="bold">8月</text>
<text x="271" y="493.9" font-size="6.7" text-anchor="middle" fill="#333" font-weight="bold">9月</text>
<text x="345.8" y="493.9" font-size="6.7" text-anchor="middle" fill="#333" font-weight="bold">10月</text>
<text x="416.2" y="493.9" font-size="6.7" text-anchor="middle" fill="#333" font-weight="bold">11月</text>
<text x="490.6" y="493.9" font-size="6.7" text-anchor="middle" fill="#333" font-weight="bold">12月</text>
<text x="17.8" y="515.9" font-size="8.1" text-anchor="middle" fill="#363944" stroke="#363944" stroke-width="0.18">1天</text>
<text x="39.3" y="515.9" font-size="8.1" text-anchor="middle" fill="#363944" stroke="#363944" stroke-width="0.18">5天</text>
<text x="64.8" y="515.9" font-size="8.1" text-anchor="middle" fill="#363944" stroke="#363944" stroke-width="0.18">1个月</text>
<text x="94.8" y="515.9" font-size="8.1" text-anchor="middle" fill="#363944" stroke="#363944" stroke-width="0.18">3个月</text>
<text x="125.3" y="515.9" font-size="8.1" text-anchor="middle" fill="#363944" stroke="#363944" stroke-width="0.18">6个月</text>
<text x="152.3" y="515.9" font-size="8.1" text-anchor="middle" fill="#363944" stroke="#363944" stroke-width="0.18">YTD</text>
<text x="174.5" y="515.9" font-size="8.1" text-anchor="middle" fill="#363944" stroke="#363944" stroke-width="0.18">1年</text>
<text x="196" y="515.9" font-size="8.1" text-anchor="middle" fill="#363944" stroke="#363944" stroke-width="0.18">5年</text>
<text x="220" y="515.9" font-size="8.1" text-anchor="middle" fill="#363944" stroke="#363944" stroke-width="0.18">全部</text>
<rect x="238.2" y="506" width="0.8" height="13" fill="#e4e6ee"/>
<g fill="none" stroke="#3a3d48" stroke-width="0.95"><rect x="249.6" y="508.4" width="9" height="3" fill="#d9dadf" stroke="none"/><path d="M249.4 511.6V508.9Q249.4 508.1 250.2 508.1H258.1Q258.9 508.1 258.9 508.9V515.7Q258.9 516.5 258.1 516.5H254.2M249.4 511.5H258.9"/><path d="M248 514.4H252.9M251.3 512.5L253.3 514.4L251.3 516.3" stroke-width="0.9"/></g>
<g clip-path="url(#cr)">
<rect x="580.1" y="0" width="0.8" height="483" fill="#f2f2f3"/>
<rect x="630.6" y="0" width="0.8" height="483" fill="#f2f2f3"/>
<rect x="681.1" y="0" width="0.8" height="483" fill="#f2f2f3"/>
<rect x="765.9" y="0" width="0.8" height="483" fill="#f2f2f3"/>
<rect x="850.8" y="0" width="0.8" height="483" fill="#f2f2f3"/>
<rect x="939.1" y="0" width="0.8" height="483" fill="#f2f2f3"/>
<rect x="989.4" y="0" width="0.8" height="483" fill="#f2f2f3"/>
<rect x="542" y="-1.30" width="503" height="0.8" fill="#f5f5f6"/>
<rect x="542" y="24.80" width="503" height="0.8" fill="#f5f5f6"/>
<rect x="542" y="50.90" width="503" height="0.8" fill="#f5f5f6"/>
<rect x="542" y="77.00" width="503" height="0.8" fill="#f5f5f6"/>
<rect x="542" y="103.10" width="503" height="0.8" fill="#f5f5f6"/>
<rect x="542" y="129.20" width="503" height="0.8" fill="#f5f5f6"/>
<rect x="542" y="155.30" width="503" height="0.8" fill="#f5f5f6"/>
<rect x="542" y="181.40" width="503" height="0.8" fill="#f5f5f6"/>
<rect x="542" y="207.50" width="503" height="0.8" fill="#f5f5f6"/>
<rect x="542" y="233.60" width="503" height="0.8" fill="#f5f5f6"/>
<rect x="542" y="259.70" width="503" height="0.8" fill="#f5f5f6"/>
<rect x="542" y="285.80" width="503" height="0.8" fill="#f5f5f6"/>
<rect x="542" y="311.90" width="503" height="0.8" fill="#f5f5f6"/>
<rect x="542" y="338.00" width="503" height="0.8" fill="#f5f5f6"/>
<rect x="542" y="364.10" width="503" height="0.8" fill="#f5f5f6"/>
<rect x="542" y="390.20" width="503" height="0.8" fill="#f5f5f6"/>
<rect x="542" y="416.30" width="503" height="0.8" fill="#f5f5f6"/>
<rect x="542" y="442.40" width="503" height="0.8" fill="#f5f5f6"/>
<rect x="542" y="468.50" width="503" height="0.8" fill="#f5f5f6"/>
<g opacity="0.092"><text transform="translate(623.75,228.3) scale(0.772,1)" font-size="62.3" fill="#000" stroke="#000" stroke-width="0.8">C</text></g>
<g opacity="0.092"><text transform="translate(659.42,228.3) scale(0.808,1)" font-size="62.3" fill="#000" stroke="#000" stroke-width="0.8">N</text></g>
<g opacity="0.092"><text transform="translate(698.89,228.3) scale(0.785,1)" font-size="62.3" fill="#000" stroke="#000" stroke-width="0.8">5</text></g>
<g opacity="0.092"><text transform="translate(727.03,228.3) scale(0.890,1)" font-size="62.3" fill="#000" stroke="#000" stroke-width="0.8">0</text></g>
<g opacity="0.092"><text transform="translate(757.29,228.3) scale(0.854,1)" font-size="62.3" fill="#000" stroke="#000" stroke-width="0.8">U</text></g>
<g opacity="0.092"><text transform="translate(796.07,228.3) scale(0.667,1)" font-size="62.3" fill="#000" stroke="#000" stroke-width="0.8">S</text></g>
<g opacity="0.092"><text transform="translate(824.60,228.3) scale(0.813,1)" font-size="62.3" fill="#000" stroke="#000" stroke-width="0.8">D</text></g>
<g opacity="0.092"><text transform="translate(864.08,228.3) scale(0.851,1)" font-size="62.3" fill="#000" stroke="#000" stroke-width="0.8">,</text></g><g opacity="0.092"><text transform="translate(899.26,228.3) scale(0.875,1)" font-size="62.3" fill="#000" stroke="#000" stroke-width="0.8">4</text></g>
<g opacity="0.092"><text transform="translate(930.52,228.3) scale(0.879,1)" font-size="62.3" fill="#000" stroke="#000" stroke-width="0.8">h</text></g>
<text x="727.3" y="279.6" font-size="30.4" textLength="131.3" lengthAdjust="spacingAndGlyphs" fill="#000" stroke="#000" stroke-width="0.4" opacity="0.088">China A50</text>
<rect x="875" y="182.0" width="104.4" height="2" fill="#ffc2c2"/>
<rect x="856.3" y="234.6" width="119" height="1.9" fill="#8ab0e8"/>
<path d="M540.7 182.5H1045" stroke="#4646ff" stroke-width="1" stroke-dasharray="3.4 3.32" fill="none"/>
<path d="M540.7 235.5H1045" stroke="#4646ff" stroke-width="1" stroke-dasharray="3.4 3.32" fill="none"/>
<rect x="542.66" y="294.30" width="0.68" height="68.40" fill="#707070"/>
<rect x="541.95" y="303.80" width="1.9" height="16.90" fill="#3c7a58"/>
<rect x="546.05" y="267.50" width="0.68" height="45.10" fill="#707070"/>
<rect x="545.34" y="298.80" width="1.9" height="5.80" fill="#3c7a58"/>
<rect x="549.43" y="291.30" width="0.68" height="17.50" fill="#707070"/>
<rect x="548.72" y="298.80" width="1.9" height="8.80" fill="#97301f"/>
<rect x="552.82" y="291.30" width="0.68" height="23.30" fill="#707070"/>
<rect x="552.11" y="307.00" width="1.9" height="6.80" fill="#97301f"/>
<rect x="556.21" y="305.00" width="0.68" height="9.60" fill="#707070"/>
<rect x="555.50" y="312.00" width="1.9" height="1.80" fill="#3c7a58"/>
<rect x="559.59" y="281.30" width="0.68" height="32.50" fill="#707070"/>
<rect x="558.88" y="298.00" width="1.9" height="14.60" fill="#3c7a58"/>
<rect x="562.98" y="276.30" width="0.68" height="28.30" fill="#707070"/>
<rect x="562.27" y="285.80" width="1.9" height="12.20" fill="#3c7a58"/>
<rect x="566.37" y="283.80" width="0.68" height="13.80" fill="#707070"/>
<rect x="565.66" y="285.80" width="1.9" height="1.70" fill="#97301f"/>
<rect x="569.76" y="275.00" width="0.68" height="32.00" fill="#707070"/>
<rect x="569.05" y="287.00" width="1.9" height="13.00" fill="#97301f"/>
<rect x="573.14" y="290.00" width="0.68" height="16.30" fill="#707070"/>
<rect x="572.43" y="299.60" width="1.9" height="2.40" fill="#97301f"/>
<rect x="576.53" y="300.00" width="0.68" height="82.00" fill="#707070"/>
<rect x="575.82" y="301.30" width="1.9" height="77.60" fill="#97301f"/>
<rect x="579.92" y="353.80" width="0.68" height="46.20" fill="#707070"/>
<rect x="579.21" y="377.60" width="1.9" height="2.00" fill="#97301f"/>
<rect x="583.30" y="350.00" width="0.68" height="30.00" fill="#707070"/>
<rect x="582.59" y="353.80" width="1.9" height="25.80" fill="#3c7a58"/>
<rect x="586.69" y="341.30" width="0.68" height="35.00" fill="#707070"/>
<rect x="585.98" y="353.80" width="1.9" height="3.80" fill="#97301f"/>
<rect x="590.08" y="342.50" width="0.68" height="15.50" fill="#707070"/>
<rect x="589.37" y="346.30" width="1.9" height="11.30" fill="#3c7a58"/>
<rect x="593.46" y="345.00" width="0.68" height="64.40" fill="#707070"/>
<rect x="592.75" y="346.30" width="1.9" height="35.60" fill="#97301f"/>
<rect x="596.85" y="372.00" width="0.68" height="28.90" fill="#707070"/>
<rect x="596.14" y="381.40" width="1.9" height="6.30" fill="#97301f"/>
<rect x="600.24" y="373.80" width="0.68" height="13.80" fill="#707070"/>
<rect x="599.53" y="377.60" width="1.9" height="9.10" fill="#3c7a58"/>
<rect x="603.63" y="377.00" width="0.68" height="41.90" fill="#707070"/>
<rect x="602.92" y="377.60" width="1.9" height="26.30" fill="#97301f"/>
<rect x="607.01" y="391.80" width="0.68" height="14.60" fill="#707070"/>
<rect x="606.30" y="399.40" width="1.9" height="4.50" fill="#3c7a58"/>
<rect x="610.40" y="398.00" width="0.68" height="54.00" fill="#707070"/>
<rect x="609.69" y="399.40" width="1.9" height="9.00" fill="#97301f"/>
<rect x="613.79" y="402.60" width="0.68" height="30.10" fill="#707070"/>
<rect x="613.08" y="407.60" width="1.9" height="4.30" fill="#97301f"/>
<rect x="617.17" y="398.00" width="0.68" height="14.20" fill="#707070"/>
<rect x="616.46" y="399.40" width="1.9" height="12.50" fill="#3c7a58"/>
<rect x="620.56" y="379.30" width="0.68" height="20.70" fill="#707070"/>
<rect x="619.85" y="383.80" width="1.9" height="15.60" fill="#3c7a58"/>
<rect x="623.95" y="379.30" width="0.68" height="16.30" fill="#707070"/>
<rect x="623.24" y="383.80" width="1.9" height="11.20" fill="#97301f"/>
<rect x="627.33" y="392.00" width="0.68" height="67.50" fill="#707070"/>
<rect x="626.62" y="393.80" width="1.9" height="37.10" fill="#97301f"/>
<rect x="630.72" y="406.40" width="0.68" height="28.30" fill="#707070"/>
<rect x="630.01" y="415.00" width="1.9" height="15.70" fill="#3c7a58"/>
<rect x="634.11" y="406.40" width="0.68" height="22.50" fill="#707070"/>
<rect x="633.40" y="413.40" width="1.9" height="2.20" fill="#3c7a58"/>
<rect x="637.50" y="392.60" width="0.68" height="31.30" fill="#707070"/>
<rect x="636.79" y="400.90" width="1.9" height="13.50" fill="#3c7a58"/>
<rect x="640.88" y="371.00" width="0.68" height="34.60" fill="#707070"/>
<rect x="640.17" y="371.30" width="1.9" height="30.10" fill="#3c7a58"/>
<rect x="644.27" y="317.00" width="0.68" height="55.00" fill="#707070"/>
<rect x="643.56" y="331.90" width="1.9" height="39.70" fill="#3c7a58"/>
<rect x="647.66" y="321.40" width="0.68" height="24.20" fill="#707070"/>
<rect x="646.95" y="331.90" width="1.9" height="4.00" fill="#97301f"/>
<rect x="651.04" y="308.80" width="0.68" height="27.70" fill="#707070"/>
<rect x="650.33" y="323.90" width="1.9" height="12.00" fill="#3c7a58"/>
<rect x="654.43" y="296.30" width="0.68" height="39.60" fill="#707070"/>
<rect x="653.72" y="299.60" width="1.9" height="25.00" fill="#3c7a58"/>
<rect x="657.82" y="297.00" width="0.68" height="6.80" fill="#707070"/>
<rect x="657.11" y="298.00" width="1.9" height="2.60" fill="#3c7a58"/>
<rect x="661.20" y="191.30" width="0.68" height="116.30" fill="#707070"/>
<rect x="660.49" y="206.30" width="1.9" height="92.50" fill="#3c7a58"/>
<rect x="664.59" y="190.00" width="0.68" height="42.60" fill="#707070"/>
<rect x="663.88" y="197.60" width="1.9" height="10.00" fill="#3c7a58"/>
<rect x="667.98" y="183.80" width="0.68" height="27.50" fill="#707070"/>
<rect x="667.27" y="188.00" width="1.9" height="10.80" fill="#3c7a58"/>
<rect x="671.37" y="186.30" width="0.68" height="15.00" fill="#707070"/>
<rect x="670.66" y="188.00" width="1.9" height="7.00" fill="#97301f"/>
<rect x="674.75" y="189.50" width="0.68" height="8.50" fill="#707070"/>
<rect x="674.04" y="193.80" width="1.9" height="3.80" fill="#97301f"/>
<rect x="678.14" y="110.00" width="0.68" height="88.00" fill="#707070"/>
<rect x="677.43" y="154.70" width="1.9" height="42.90" fill="#3c7a58"/>
<rect x="681.53" y="147.70" width="0.68" height="35.00" fill="#707070"/>
<rect x="680.82" y="154.70" width="1.9" height="19.30" fill="#97301f"/>
<rect x="684.91" y="161.40" width="0.68" height="23.60" fill="#707070"/>
<rect x="684.20" y="166.40" width="1.9" height="7.60" fill="#3c7a58"/>
<rect x="688.30" y="161.00" width="0.68" height="16.50" fill="#707070"/>
<rect x="687.59" y="166.40" width="1.9" height="6.30" fill="#97301f"/>
<rect x="691.69" y="171.00" width="0.68" height="20.30" fill="#707070"/>
<rect x="690.98" y="172.60" width="1.9" height="17.90" fill="#97301f"/>
<rect x="695.07" y="152.70" width="0.68" height="61.10" fill="#707070"/>
<rect x="694.36" y="166.30" width="1.9" height="25.00" fill="#3c7a58"/>
<rect x="698.46" y="154.00" width="0.68" height="66.90" fill="#707070"/>
<rect x="697.75" y="166.30" width="1.9" height="28.70" fill="#97301f"/>
<rect x="701.85" y="179.00" width="0.68" height="16.60" fill="#707070"/>
<rect x="701.14" y="183.80" width="1.9" height="11.20" fill="#3c7a58"/>
<rect x="705.24" y="176.40" width="0.68" height="11.10" fill="#707070"/>
<rect x="704.53" y="184.30" width="1.9" height="2.70" fill="#97301f"/>
<rect x="708.62" y="180.00" width="0.68" height="19.60" fill="#707070"/>
<rect x="707.91" y="186.30" width="1.9" height="11.70" fill="#97301f"/>
<rect x="712.01" y="157.20" width="0.68" height="47.80" fill="#707070"/>
<rect x="711.30" y="160.20" width="1.9" height="37.80" fill="#3c7a58"/>
<rect x="715.40" y="103.00" width="0.68" height="60.20" fill="#707070"/>
<rect x="714.69" y="106.30" width="1.9" height="54.70" fill="#3c7a58"/>
<rect x="718.78" y="92.60" width="0.68" height="19.40" fill="#707070"/>
<rect x="718.07" y="106.30" width="1.9" height="1.30" fill="#97301f"/>
<rect x="722.17" y="98.80" width="0.68" height="10.50" fill="#707070"/>
<rect x="721.46" y="100.00" width="1.9" height="8.00" fill="#3c7a58"/>
<rect x="725.56" y="98.80" width="0.68" height="14.20" fill="#707070"/>
<rect x="724.85" y="100.00" width="1.9" height="10.00" fill="#97301f"/>
<rect x="728.94" y="105.60" width="0.68" height="77.10" fill="#707070"/>
<rect x="728.23" y="110.00" width="1.9" height="52.70" fill="#97301f"/>
<rect x="732.33" y="149.00" width="0.68" height="27.00" fill="#707070"/>
<rect x="731.62" y="154.70" width="1.9" height="8.00" fill="#3c7a58"/>
<rect x="735.72" y="151.40" width="0.68" height="7.60" fill="#707070"/>
<rect x="735.01" y="154.70" width="1.9" height="2.50" fill="#97301f"/>
<rect x="739.11" y="155.20" width="0.68" height="21.30" fill="#707070"/>
<rect x="738.40" y="156.40" width="1.9" height="10.00" fill="#97301f"/>
<rect x="742.49" y="154.00" width="0.68" height="15.00" fill="#707070"/>
<rect x="741.78" y="156.40" width="1.9" height="10.80" fill="#3c7a58"/>
<rect x="745.88" y="133.40" width="0.68" height="61.60" fill="#707070"/>
<rect x="745.17" y="155.20" width="1.9" height="2.00" fill="#3c7a58"/>
<rect x="749.27" y="135.90" width="0.68" height="24.30" fill="#707070"/>
<rect x="748.56" y="143.20" width="1.9" height="13.20" fill="#3c7a58"/>
<rect x="752.65" y="140.00" width="0.68" height="30.70" fill="#707070"/>
<rect x="751.94" y="143.20" width="1.9" height="17.80" fill="#97301f"/>
<rect x="756.04" y="143.90" width="0.68" height="18.30" fill="#707070"/>
<rect x="755.33" y="159.00" width="1.9" height="2.00" fill="#3c7a58"/>
<rect x="759.43" y="154.00" width="0.68" height="8.70" fill="#707070"/>
<rect x="758.72" y="157.70" width="1.9" height="1.70" fill="#3c7a58"/>
<rect x="762.81" y="148.20" width="0.68" height="113.20" fill="#707070"/>
<rect x="762.10" y="158.20" width="1.9" height="92.50" fill="#97301f"/>
<rect x="766.20" y="223.90" width="0.68" height="45.50" fill="#707070"/>
<rect x="765.49" y="231.40" width="1.9" height="19.30" fill="#3c7a58"/>
<rect x="769.59" y="224.60" width="0.68" height="13.40" fill="#707070"/>
<rect x="768.88" y="231.40" width="1.9" height="5.60" fill="#97301f"/>
<rect x="772.98" y="227.60" width="0.68" height="14.40" fill="#707070"/>
<rect x="772.27" y="232.60" width="1.9" height="4.40" fill="#3c7a58"/>
<rect x="776.36" y="231.40" width="0.68" height="4.50" fill="#707070"/>
<rect x="775.65" y="232.60" width="1.9" height="2.40" fill="#97301f"/>
<rect x="779.75" y="178.00" width="0.68" height="71.00" fill="#707070"/>
<rect x="779.04" y="188.80" width="1.9" height="46.20" fill="#3c7a58"/>
<rect x="783.14" y="182.50" width="0.68" height="18.80" fill="#707070"/>
<rect x="782.43" y="188.80" width="1.9" height="10.00" fill="#97301f"/>
<rect x="786.52" y="188.00" width="0.68" height="11.60" fill="#707070"/>
<rect x="785.81" y="195.80" width="1.9" height="3.00" fill="#3c7a58"/>
<rect x="789.91" y="176.30" width="0.68" height="23.70" fill="#707070"/>
<rect x="789.20" y="177.00" width="1.9" height="19.30" fill="#3c7a58"/>
<rect x="793.30" y="176.30" width="0.68" height="4.20" fill="#707070"/>
<rect x="792.59" y="177.00" width="1.9" height="3.00" fill="#97301f"/>
<rect x="796.68" y="149.00" width="0.68" height="41.00" fill="#707070"/>
<rect x="795.97" y="180.00" width="1.9" height="8.80" fill="#97301f"/>
<rect x="800.07" y="187.00" width="0.68" height="18.60" fill="#707070"/>
<rect x="799.36" y="188.00" width="1.9" height="2.00" fill="#97301f"/>
<rect x="803.46" y="183.80" width="0.68" height="7.50" fill="#707070"/>
<rect x="802.75" y="185.00" width="1.9" height="4.60" fill="#3c7a58"/>
<rect x="806.85" y="182.00" width="0.68" height="13.00" fill="#707070"/>
<rect x="806.14" y="185.00" width="1.9" height="1.30" fill="#3c7a58"/>
<rect x="810.23" y="181.50" width="0.68" height="8.70" fill="#707070"/>
<rect x="809.52" y="185.20" width="1.9" height="4.50" fill="#97301f"/>
<rect x="813.62" y="130.10" width="0.68" height="67.20" fill="#707070"/>
<rect x="812.91" y="160.20" width="1.9" height="29.20" fill="#3c7a58"/>
<rect x="817.01" y="143.90" width="0.68" height="17.50" fill="#707070"/>
<rect x="816.30" y="154.00" width="1.9" height="6.70" fill="#3c7a58"/>
<rect x="820.39" y="151.40" width="0.68" height="6.30" fill="#707070"/>
<rect x="819.68" y="154.00" width="1.9" height="2.00" fill="#97301f"/>
<rect x="823.78" y="151.40" width="0.68" height="15.00" fill="#707070"/>
<rect x="823.07" y="154.70" width="1.9" height="2.50" fill="#97301f"/>
<rect x="827.17" y="152.70" width="0.68" height="8.70" fill="#707070"/>
<rect x="826.46" y="156.00" width="1.9" height="4.20" fill="#97301f"/>
<rect x="830.55" y="86.30" width="0.68" height="73.90" fill="#707070"/>
<rect x="829.84" y="90.00" width="1.9" height="69.40" fill="#3c7a58"/>
<rect x="833.94" y="70.00" width="0.68" height="37.60" fill="#707070"/>
<rect x="833.23" y="90.00" width="1.9" height="11.30" fill="#97301f"/>
<rect x="837.33" y="90.00" width="0.68" height="12.60" fill="#707070"/>
<rect x="836.62" y="97.60" width="1.9" height="4.20" fill="#3c7a58"/>
<rect x="840.72" y="86.30" width="0.68" height="27.50" fill="#707070"/>
<rect x="840.01" y="98.00" width="1.9" height="4.60" fill="#97301f"/>
<rect x="844.10" y="100.00" width="0.68" height="11.30" fill="#707070"/>
<rect x="843.39" y="102.00" width="1.9" height="7.60" fill="#97301f"/>
<rect x="847.49" y="102.60" width="0.68" height="38.00" fill="#707070"/>
<rect x="846.78" y="108.80" width="1.9" height="12.10" fill="#97301f"/>
<rect x="850.88" y="103.80" width="0.68" height="25.60" fill="#707070"/>
<rect x="850.17" y="110.00" width="1.9" height="10.90" fill="#3c7a58"/>
<rect x="854.26" y="108.80" width="0.68" height="6.20" fill="#707070"/>
<rect x="853.55" y="110.00" width="1.9" height="3.00" fill="#97301f"/>
<rect x="857.65" y="108.80" width="0.68" height="14.20" fill="#707070"/>
<rect x="856.94" y="112.60" width="1.9" height="1.70" fill="#97301f"/>
<rect x="861.04" y="111.30" width="0.68" height="5.70" fill="#707070"/>
<rect x="860.33" y="113.00" width="1.9" height="1.60" fill="#3c7a58"/>
<rect x="864.42" y="75.00" width="0.68" height="71.40" fill="#707070"/>
<rect x="863.71" y="113.00" width="1.9" height="2.00" fill="#97301f"/>
<rect x="867.81" y="100.00" width="0.68" height="46.40" fill="#707070"/>
<rect x="867.10" y="112.60" width="1.9" height="16.30" fill="#97301f"/>
<rect x="871.20" y="125.60" width="0.68" height="6.40" fill="#707070"/>
<rect x="870.49" y="127.30" width="1.9" height="2.30" fill="#97301f"/>
<rect x="874.59" y="127.60" width="0.68" height="28.40" fill="#707070"/>
<rect x="873.88" y="128.90" width="1.9" height="22.00" fill="#97301f"/>
<rect x="877.97" y="143.40" width="0.68" height="9.60" fill="#707070"/>
<rect x="877.26" y="145.00" width="1.9" height="6.40" fill="#3c7a58"/>
<rect x="881.36" y="143.90" width="0.68" height="59.90" fill="#707070"/>
<rect x="880.65" y="145.00" width="1.9" height="50.00" fill="#97301f"/>
<rect x="884.75" y="181.30" width="0.68" height="31.30" fill="#707070"/>
<rect x="884.04" y="187.00" width="1.9" height="8.00" fill="#3c7a58"/>
<rect x="888.13" y="182.60" width="0.68" height="13.70" fill="#707070"/>
<rect x="887.42" y="187.00" width="1.9" height="5.60" fill="#97301f"/>
<rect x="891.52" y="181.30" width="0.68" height="16.30" fill="#707070"/>
<rect x="890.81" y="192.00" width="1.9" height="4.30" fill="#97301f"/>
<rect x="894.91" y="193.80" width="0.68" height="13.80" fill="#707070"/>
<rect x="894.20" y="195.00" width="1.9" height="11.30" fill="#97301f"/>
<rect x="898.29" y="181.30" width="0.68" height="41.30" fill="#707070"/>
<rect x="897.58" y="196.30" width="1.9" height="10.00" fill="#3c7a58"/>
<rect x="901.68" y="187.60" width="0.68" height="35.00" fill="#707070"/>
<rect x="900.97" y="196.30" width="1.9" height="2.50" fill="#97301f"/>
<rect x="905.07" y="195.00" width="0.68" height="7.60" fill="#707070"/>
<rect x="904.36" y="195.80" width="1.9" height="1.80" fill="#3c7a58"/>
<rect x="908.46" y="186.30" width="0.68" height="16.30" fill="#707070"/>
<rect x="907.75" y="193.80" width="1.9" height="3.00" fill="#3c7a58"/>
<rect x="911.84" y="187.00" width="0.68" height="11.80" fill="#707070"/>
<rect x="911.13" y="191.30" width="1.9" height="3.30" fill="#3c7a58"/>
<rect x="915.23" y="183.80" width="0.68" height="28.80" fill="#707070"/>
<rect x="914.52" y="191.30" width="1.9" height="5.50" fill="#97301f"/>
<rect x="918.62" y="182.60" width="0.68" height="20.00" fill="#707070"/>
<rect x="917.91" y="193.80" width="1.9" height="3.00" fill="#3c7a58"/>
<rect x="922.00" y="187.60" width="0.68" height="11.20" fill="#707070"/>
<rect x="921.29" y="192.00" width="1.9" height="2.60" fill="#3c7a58"/>
<rect x="925.39" y="187.60" width="0.68" height="13.70" fill="#707070"/>
<rect x="924.68" y="192.00" width="1.9" height="2.60" fill="#97301f"/>
<rect x="928.78" y="190.00" width="0.68" height="12.60" fill="#707070"/>
<rect x="928.07" y="191.30" width="1.9" height="5.00" fill="#3c7a58"/>
<path d="M833.6 70L962.3 228.6" stroke="#7a90ff" stroke-width="0.9" fill="none"/>
<path d="M833.6 70L962.3 228.6" stroke="#111" stroke-width="1.45" stroke-dasharray="2.9 1.4" fill="none"/>
<rect x="541.9" y="-2" width="320" height="6.5" fill="#fff" opacity="0.72"/>
<rect x="583.9" y="4" width="26" height="18" fill="#fff" opacity="0.55"/>
<text x="545.9" y="0.9" font-size="7.6" fill="#3a3a3a" font-family='"Liberation Sans", "Noto Sans CJK SC", sans-serif'>China A50 · 4h · OANDA</text>
<rect x="653.4" y="-3" width="7" height="4.6" rx="0.8" fill="#4d8af0"/>
<circle cx="676.9" cy="-1.6" r="4" fill="#e6e7ea"/>
<text x="691.9" y="0.9" font-size="7" fill="#555" textLength="228" lengthAdjust="spacing" font-family='"Liberation Sans", "Noto Sans CJK SC", sans-serif'>开=15875.0 高=15885.0 低=15827.5 收=15862.5 −10.0 (−0.06%)</text>
<rect x="546.5" y="6.9" width="37.2" height="14" rx="2.2" fill="#fff" stroke="#f87e7a" stroke-width="0.8"/>
<text x="565.1" y="16.7" font-size="7.7" text-anchor="middle" fill="#f23f3c" stroke="#f23f3c" stroke-width="0.15" font-family='"Liberation Sans", "Noto Sans CJK SC", sans-serif'>15857.5</text>
<text x="595.6999999999999" y="16.7" font-size="7.3" text-anchor="middle" fill="#6a6d78" font-family='"Liberation Sans", "Noto Sans CJK SC", sans-serif'>10.0</text>
<rect x="607.5" y="6.9" width="37.8" height="14" rx="2.2" fill="#fff" stroke="#6f97fb" stroke-width="0.8"/>
<text x="626.4" y="16.7" font-size="7.7" text-anchor="middle" fill="#2f68f5" stroke="#2f68f5" stroke-width="0.15" font-family='"Liberation Sans", "Noto Sans CJK SC", sans-serif'>15867.5</text>
<circle cx="742.3" cy="456.0" r="8.6" fill="#000" opacity="0.05"/>
<circle cx="742.3" cy="455.6" r="8.3" fill="#000" opacity="0.05"/>
<circle cx="742.3" cy="455.2" r="7.9" fill="#fff"/>
<g transform="translate(742.3,455.2)" fill="none" stroke="#474a55" stroke-width="1.05" stroke-linecap="butt"><path d="M-3.4 0H3.4"/></g>
<circle cx="764.4" cy="456.0" r="8.6" fill="#000" opacity="0.05"/>
<circle cx="764.4" cy="455.6" r="8.3" fill="#000" opacity="0.05"/>
<circle cx="764.4" cy="455.2" r="7.9" fill="#fff"/>
<g transform="translate(764.4,455.2)" fill="none" stroke="#474a55" stroke-width="1.05" stroke-linecap="butt"><path d="M-3.4 0H3.4M0 -3.4V3.4"/></g>
<circle cx="794.8" cy="456.0" r="8.6" fill="#000" opacity="0.05"/>
<circle cx="794.8" cy="455.6" r="8.3" fill="#000" opacity="0.05"/>
<circle cx="794.8" cy="455.2" r="7.9" fill="#fff"/>
<g transform="translate(794.8,455.2)" fill="none" stroke="#474a55" stroke-width="1.05" stroke-linecap="butt"><path d="M-4.4 -1.8V-4.1H-2.1M2.1 -4.1H4.4V-1.8M4.4 1.8V4.1H2.1M-2.1 4.1H-4.4V1.8"/></g>
<circle cx="825.5" cy="456.0" r="8.6" fill="#000" opacity="0.05"/>
<circle cx="825.5" cy="455.6" r="8.3" fill="#000" opacity="0.05"/>
<circle cx="825.5" cy="455.2" r="7.9" fill="#fff"/>
<g transform="translate(825.5,455.2)" fill="none" stroke="#474a55" stroke-width="1.05" stroke-linecap="butt"><path d="M1.9 -3.3L-2.1 0L1.9 3.3"/></g>
<circle cx="847.5" cy="456.0" r="8.6" fill="#000" opacity="0.05"/>
<circle cx="847.5" cy="455.6" r="8.3" fill="#000" opacity="0.05"/>
<circle cx="847.5" cy="455.2" r="7.9" fill="#fff"/>
<g transform="translate(847.5,455.2)" fill="none" stroke="#474a55" stroke-width="1.05" stroke-linecap="butt"><path d="M-1.9 -3.3L2.1 0L-1.9 3.3"/></g>
<circle cx="877.8" cy="456.0" r="8.6" fill="#000" opacity="0.05"/>
<circle cx="877.8" cy="455.6" r="8.3" fill="#000" opacity="0.05"/>
<circle cx="877.8" cy="455.2" r="7.9" fill="#fff"/>
<g transform="translate(877.8,455.2)" fill="none" stroke="#474a55" stroke-width="1.05" stroke-linecap="butt"><path d="M-3.5 0.3A3.5 3.5 0 1 0 -0.2 -3.2"/><path d="M0.9 -5.6L-1.6 -3.3L0.9 -1.0" stroke-linejoin="miter"/></g>
</g>
<rect x="1044.1" y="0" width="0.9" height="499.5" fill="#6e6e6e"/>
<text x="1073.8" y="27.55" font-size="6.55" text-anchor="end" fill="#4c4c4c">16500.0</text>
<text x="1073.8" y="53.65" font-size="6.55" text-anchor="end" fill="#4c4c4c">16400.0</text>
<text x="1073.8" y="79.75" font-size="6.55" text-anchor="end" fill="#4c4c4c">16300.0</text>
<text x="1073.8" y="105.85" font-size="6.55" text-anchor="end" fill="#4c4c4c">16200.0</text>
<text x="1073.8" y="131.95" font-size="6.55" text-anchor="end" fill="#4c4c4c">16100.0</text>
<text x="1073.8" y="158.05" font-size="6.55" text-anchor="end" fill="#4c4c4c">16000.0</text>
<text x="1073.8" y="184.15" font-size="6.55" text-anchor="end" fill="#4c4c4c">15900.0</text>
<text x="1073.8" y="210.25" font-size="6.55" text-anchor="end" fill="#4c4c4c">15800.0</text>
<text x="1073.8" y="236.35" font-size="6.55" text-anchor="end" fill="#4c4c4c">15700.0</text>
<text x="1073.8" y="262.45" font-size="6.55" text-anchor="end" fill="#4c4c4c">15600.0</text>
<text x="1073.8" y="288.55" font-size="6.55" text-anchor="end" fill="#4c4c4c">15500.0</text>
<text x="1073.8" y="314.65" font-size="6.55" text-anchor="end" fill="#4c4c4c">15400.0</text>
<text x="1073.8" y="340.75" font-size="6.55" text-anchor="end" fill="#4c4c4c">15300.0</text>
<text x="1073.8" y="366.85" font-size="6.55" text-anchor="end" fill="#4c4c4c">15200.0</text>
<text x="1073.8" y="392.95" font-size="6.55" text-anchor="end" fill="#4c4c4c">15100.0</text>
<text x="1073.8" y="419.05" font-size="6.55" text-anchor="end" fill="#4c4c4c">15000.0</text>
<text x="1073.8" y="445.15" font-size="6.55" text-anchor="end" fill="#4c4c4c">14900.0</text>
<text x="1073.8" y="471.25" font-size="6.55" text-anchor="end" fill="#4c4c4c">14800.0</text>
<rect x="1050.2" y="-6" width="23.4" height="8.6" rx="1.5" fill="#fff" stroke="#d5d9e4" stroke-width="0.7"/>
<rect x="1044.1" y="177.30" width="32.8" height="10.2" rx="0.9" fill="#0b0bff"/><text x="1073.7" y="184.95" font-size="7.0" font-weight="bold" text-anchor="end" textLength="23.4" lengthAdjust="spacingAndGlyphs" fill="#f0f0ff" font-family='"Liberation Sans", "Noto Sans CJK SC", sans-serif'>15896.9</text>
<rect x="1044.1" y="187.00" width="32.8" height="9.8" rx="0.9" fill="#69a07f"/><text x="1073.7" y="194.45" font-size="7.0" font-weight="bold" text-anchor="end" textLength="23.4" lengthAdjust="spacingAndGlyphs" fill="#f0f0ff" font-family='"Liberation Sans", "Noto Sans CJK SC", sans-serif'>15862.5</text>
<rect x="1044.1" y="230.60" width="32.8" height="10.2" rx="0.9" fill="#0b0bff"/><text x="1073.7" y="238.25" font-size="7.0" font-weight="bold" text-anchor="end" textLength="23.4" lengthAdjust="spacingAndGlyphs" fill="#f0f0ff" font-family='"Liberation Sans", "Noto Sans CJK SC", sans-serif'>15694.8</text>
<rect x="541" y="483.2" width="538" height="0.9" fill="#6e6e6e"/>
<text x="580.3" y="493.8" font-size="6.7" text-anchor="middle" fill="#333" font-weight="bold">10月</text>
<text x="630.5" y="493.8" font-size="6.7" text-anchor="middle" fill="#333">6</text>
<text x="681.6" y="493.8" font-size="6.7" text-anchor="middle" fill="#333">11</text>
<text x="766.3" y="493.8" font-size="6.7" text-anchor="middle" fill="#333">18</text>
<text x="851" y="493.8" font-size="6.7" text-anchor="middle" fill="#333">25</text>
<text x="992" y="493.8" font-size="6.7" text-anchor="middle" fill="#333" font-weight="bold" opacity="0.55">11月</text>
<g transform="translate(1062.0,492.3)" fill="none" stroke="#555" ><circle r="2.5" stroke-width="1.0"/><path d="M0 -4V-2.8M0 4V2.8M-4 0H-2.8M4 0H2.8M-2.85 -2.85L-2 -2M2.85 2.85L2 2M-2.85 2.85L-2 2M2.85 -2.85L2 -2" stroke-width="1.25"/></g>
<path d="M541.4 -2V499.6H1079.1V-2" fill="none" stroke="#2f62fa" stroke-width="1.45"/>
<text x="943" y="515.6" font-size="8.25" text-anchor="middle" fill="#3c3f4a">23:19:30 (UTC-4)</text>
<rect x="985.7" y="506" width="0.7" height="14" fill="#dcdfe6"/>
<text x="1000.3" y="515.65" font-size="8.3" text-anchor="middle" fill="#363944" stroke="#363944" stroke-width="0.12">%</text>
<text x="1018.8" y="515.65" font-size="8.3" text-anchor="middle" fill="#363944" stroke="#363944" stroke-width="0.12">log</text>
<text x="1041.2" y="515.65" font-size="8.3" text-anchor="middle" fill="#363944" stroke="#363944" stroke-width="0.12">auto</text>
<path d="M1059.6 510.9V509.2Q1059.6 508.2 1060.6 508.2H1062.3M1065.4 508.2H1067.1Q1068.1 508.2 1068.1 509.2V510.9M1068.1 514.1V515.8Q1068.1 516.8 1067.1 516.8H1065.4M1062.3 516.8H1060.6Q1059.6 516.8 1059.6 515.8V514.1" fill="none" stroke="#565a66" stroke-width="0.9"/>
<g>
<circle cx="946.1" cy="473.7" r="22.7" fill="url(#lg)"/>
<path d="M934.06 490.11 C936.74 491.72 942.63 491.18 947.44 488.40 C953.33 484.76 958.69 478.12 959.97 471.16 C960.40 467.41 958.15 463.67 954.40 463.13 C952.80 462.92 951.19 463.34 950.12 464.42 C949.58 461.52 946.91 459.70 944.23 459.70 C941.55 459.70 939.41 461.52 938.88 464.42 C935.67 464.74 932.99 467.95 932.99 471.70 C932.99 476.51 936.74 480.48 942.09 480.90 C944.23 481.12 946.05 480.80 947.66 479.83 C946.05 483.47 939.41 487.97 934.06 490.11 Z" fill="url(#gold)"/>
<path d="M943.48 472.87 C944.12 470.63 948.19 469.98 949.91 472.77 C951.19 475.34 950.76 477.91 949.80 479.40" fill="none" stroke="#cf3519" stroke-width="1.55" stroke-linecap="round"/>
<text x="973.4" y="481" font-size="30.5" font-weight="900" fill="#a8a8a8" stroke="#a8a8a8" stroke-width="0.5" opacity="0.92" textLength="90" lengthAdjust="spacingAndGlyphs" font-family='"Liberation Serif", "Noto Serif CJK SC", serif'>中金网</text>
<text x="975.0" y="495.1" font-size="9.1" fill="#9c9c9c" stroke="#9c9c9c" stroke-width="0.2" opacity="0.95" textLength="90.3" lengthAdjust="spacing">CNGOLD.COM.CN</text>
<text x="926.4 947.1 967.8 988.5 1009.2 1029.9 1050.6" y="508.5" font-size="10.4" fill="#9d9d9d" opacity="0.92" font-family='"Liberation Sans", "Noto Sans CJK SC", sans-serif' font-weight="300">中文财经新媒体</text>
</g>
</svg>
</body></html>
